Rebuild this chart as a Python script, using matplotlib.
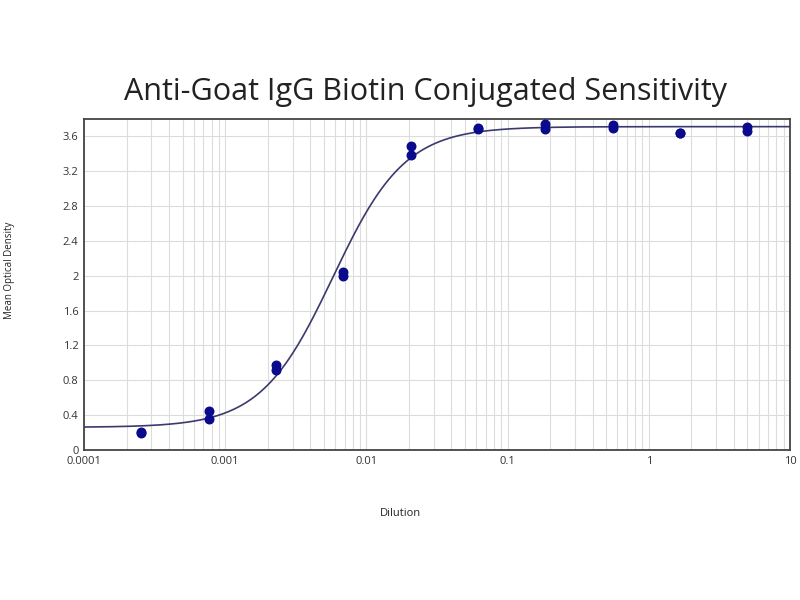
import numpy as np
import matplotlib
matplotlib.use('Agg')
import matplotlib.pyplot as plt
from matplotlib.ticker import LogLocator, FixedLocator, NullFormatter

# dilution series (3-fold) and duplicate OD readings
dilution = [0.000254, 0.000762, 0.00229, 0.00686, 0.0206,
            0.0617, 0.185, 0.556, 1.667, 5.0]
od_rep1 = [0.19, 0.45, 0.98, 2.04, 3.49, 3.70, 3.74, 3.73, 3.64, 3.71]
od_rep2 = [0.21, 0.36, 0.92, 2.00, 3.39, 3.68, 3.68, 3.70, 3.64, 3.66]

# 4 parameter logistic fit
fit_bottom = 0.26
fit_top = 3.71
fit_ec50 = 0.0058
fit_hill = 1.70

x_ticks = [0.0001, 0.001, 0.01, 0.1, 1, 10]
x_tick_labels = ['0.0001', '0.001', '0.01', '0.1', '1', '10']
y_ticks = [0, 0.4, 0.8, 1.2, 1.6, 2, 2.4, 2.8, 3.2, 3.6]
y_tick_labels = ['0', '0.4', '0.8', '1.2', '1.6', '2', '2.4', '2.8', '3.2', '3.6']

plt.rcParams['font.family'] = ['Open Sans', 'DejaVu Sans']

fig = plt.figure(figsize=(8, 6), dpi=100)
ax = fig.add_axes([0.105, 0.25, 0.8825, 0.552])

xc = np.logspace(-4, 1, 400)
yc = fit_bottom + (fit_top - fit_bottom) / (1 + (fit_ec50 / xc) ** fit_hill)
ax.plot(xc, yc, color='#3a3a6e', lw=1.2, zorder=3)

dot = '#0a0a8c'
ax.scatter(dilution, od_rep1, s=38, color=dot, zorder=4)
ax.scatter(dilution, od_rep2, s=38, color=dot, zorder=4)

ax.set_xscale('log')
ax.set_xlim(0.0001, 10)
ax.set_ylim(0, 3.8)
ax.xaxis.set_major_locator(FixedLocator(x_ticks))
ax.set_xticklabels(x_tick_labels)
ax.xaxis.set_minor_locator(LogLocator(base=10, subs=np.arange(2, 10)))
ax.xaxis.set_minor_formatter(NullFormatter())
ax.set_yticks(y_ticks)
ax.set_yticklabels(y_tick_labels)

ax.grid(True, which='both', color='#dcdcdc', lw=0.8)
ax.set_axisbelow(True)
ax.tick_params(which='both', length=0, labelsize=8, colors='#333333', pad=4)

for s in ax.spines.values():
    s.set_color('#444444')
    s.set_linewidth(1.3)

fig.text(0.532, 0.847, 'Anti-Goat IgG Biotin Conjugated Sensitivity',
         ha='center', va='center', fontsize=22, color='#222222')
fig.text(0.012, 0.55, 'Mean Optical Density', rotation=90,
         ha='center', va='center', fontsize=7, color='#222222')
fig.text(0.5, 0.145, 'Dilution', ha='center', va='center',
         fontsize=8, color='#222222')

fig.savefig('out.png', dpi=100)
